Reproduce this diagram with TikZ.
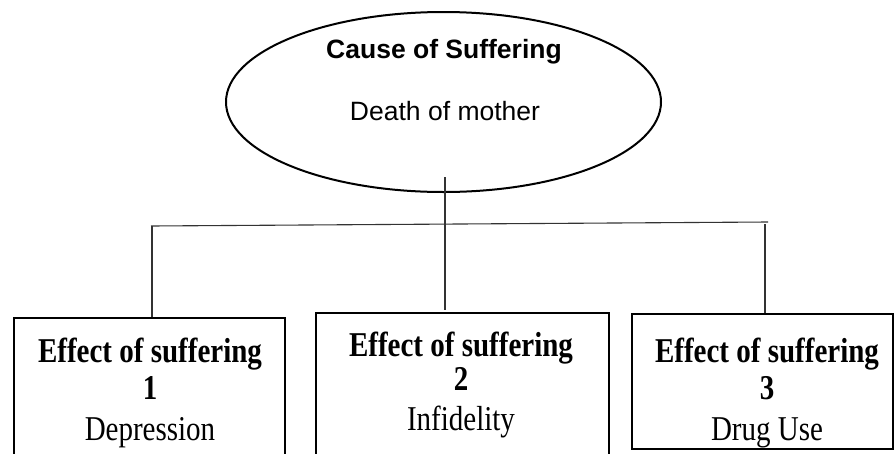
\documentclass[tikz,border=0pt]{standalone}
\usepackage{fontspec}
\setmainfont{Liberation Serif}
\newfontfamily\arialf{Liberation Sans}
\usetikzlibrary{shapes.geometric}
\begin{document}
\begin{tikzpicture}[x=1pt,y=-1pt,
  conn/.style={draw=black!80,line width=1.1pt},
  effbox/.style={draw=black,line width=2.4pt,rectangle,inner sep=0pt},
  sanstxt/.style={font=\arialf\fontsize{26.5}{30}\selectfont,anchor=base,inner sep=0pt},
  sertxt/.style={font=\fontsize{29}{32}\selectfont,anchor=base,inner sep=0pt,yscale=1.2}]
\useasboundingbox (0,0) rectangle (894,453);
% cause ellipse
\node[ellipse,draw=black,line width=2pt,minimum width=435,minimum height=180,inner sep=0pt] (cause) at (443.5,102) {};
\node[sanstxt] (causeT) at (444,58) {\bfseries Cause of Suffering};
\node[sanstxt] (causeD) at (445,120) {Death of mother};
% boxes
\node[effbox,minimum width=271,minimum height=160,anchor=north west] (b1) at (13,317) {};
\node[effbox,minimum width=293,minimum height=160,anchor=north west] (b2) at (315,312) {};
\node[effbox,minimum width=261,minimum height=135,anchor=north west] (b3) at (631,313) {};
% texts
\node[sertxt] (b1a) at (150,362) {\bfseries Effect of suffering};
\node[sertxt] (b1b) at (150,399) {\bfseries 1};
\node[sertxt] (b1c) at (150,440) {Depression};
\node[sertxt] (b2a) at (461,356) {\bfseries Effect of suffering};
\node[sertxt] (b2b) at (461,390) {\bfseries 2};
\node[sertxt] (b2c) at (461,430) {Infidelity};
\node[sertxt] (b3a) at (767,362) {\bfseries Effect of suffering};
\node[sertxt] (b3b) at (767,399) {\bfseries 3};
\node[sertxt] (b3c) at (767,440) {Drug Use};
% connectors
\coordinate (top) at (445,177);
\coordinate (jl) at (151,226);
\coordinate (jr) at (768,222);
\coordinate (mbot) at (445,310);
\coordinate (lt) at (152,226);
\coordinate (rt) at (765,224);
\draw[conn] (top) -- (mbot);
\draw[conn] (jl) -- (jr);
\draw[conn] (lt) -- (lt |- b1.north);
\draw[conn] (rt) -- (rt |- b3.north);
\end{tikzpicture}
\end{document}
